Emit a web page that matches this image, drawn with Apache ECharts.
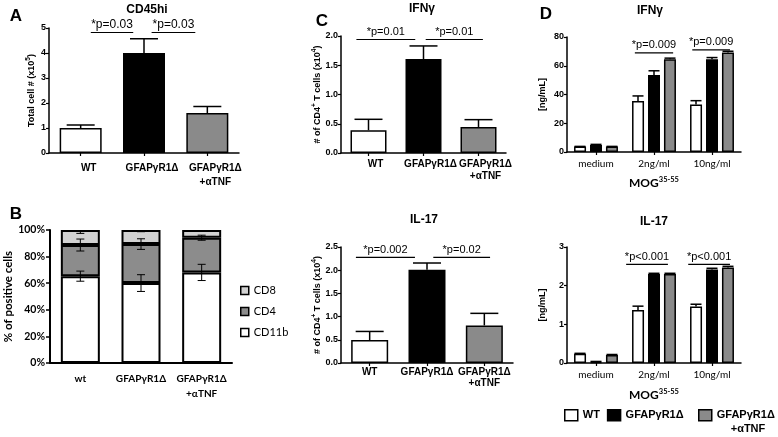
<!DOCTYPE html>
<html><head><meta charset="utf-8">
<script src="https://cdn.jsdelivr.net/npm/echarts@6/dist/echarts.min.js"></script>
<style>html,body{margin:0;padding:0;background:#fff}#c{width:778px;height:437px}</style>
</head><body><div id="c"></div>
<script>
// ---------------- data ----------------
const groupLabels = ['WT', 'GFAPγR1Δ', 'GFAPγR1Δ\n+αTNF'];
const groupLabelsB = ['wt', 'GFAPγR1Δ', 'GFAPγR1Δ\n+αTNF'];
const groupColors = ['#ffffff', '#000000', '#8a8a8a'];

// A: CD45hi total cell number (x10^5)
const cd45Mean = [1.0, 4.0, 1.6];
const cd45Upper = [1.12, 4.57, 1.86];
const cd45Sig = [[0.16, 0.83, 4.82, '*p=0.03'], [1.12, 1.81, 4.82, '*p=0.03']];

// B: % of positive cells
const cellTypes = ['CD11b', 'CD4', 'CD8'];
const pctCD11b = [65.3, 60.1, 68.1];
const pctCD4 = [23.4, 29.3, 26.1];
const pctCD8 = [11.3, 10.6, 5.8];
const errCD11b = [3.8, 6.3, 6.1];
const errCD4 = [4.5, 4.0, 1.9];
const errCD8 = [1.6, 0.8, 0];

// C: # of CD4+ T cells (x10^4)
const ifngMean = [0.39, 1.607, 0.445];
const ifngUpper = [0.576, 1.83, 0.57];
const ifngSig = [[-0.22, 0.85, 1.94, '*p=0.01'], [1.04, 2.08, 1.94, '*p=0.01']];
const il17Mean = [0.496, 2.01, 0.81];
const il17Upper = [0.68, 2.155, 1.07];
const il17Sig = [[-0.24, 0.79, 2.276, '*p=0.002'], [1.11, 2.1, 2.276, '*p=0.02']];

// D: cytokine ng/mL after MOG35-55 restimulation
const mogDoses = ['medium', '2ng/ml', '10ng/ml'];
const dSeriesNames = ['WT', 'GFAPγR1Δ', 'GFAPγR1Δ+αTNF'];
const dIfngMean = [[3.8, 35.5, 33.0], [4.8, 53.5, 64.6], [3.8, 64.6, 69.2]];
const dIfngUpper = [[3.9, 39.0, 35.7], [5.3, 56.5, 65.7], [3.9, 65.3, 70.1]];
const dIfngSig = [[0.67, 1.33, 69.0, '*p=0.009'], [1.66, 2.31, 71.1, '*p=0.009']];
const dIl17Mean = [[0.24, 1.37, 1.46], [0.03, 2.30, 2.42], [0.21, 2.30, 2.47]];
const dIl17Upper = [[0.25, 1.47, 1.52], [0.04, 2.32, 2.45], [0.22, 2.32, 2.50]];
const dIl17Sig = [[0.52, 1.24, 2.55, '*p<0.001'], [1.59, 2.31, 2.55, '*p<0.001']];

// ---------------- styling helpers ----------------
const ARIAL = '"Liberation Sans", Arial, sans-serif';
const CAL = 'Lato, "Open Sans", sans-serif';

function errUp(capW, offset) {
  return function (params, api) {
    const p0 = api.coord([api.value(0), api.value(1)]);
    const p1 = api.coord([api.value(0), api.value(2)]);
    const cx = p0[0] + offset;
    return { type: 'group', children: [
      { type: 'line', shape: { x1: cx, y1: p0[1], x2: cx, y2: p1[1] }, style: { stroke: '#000', lineWidth: 1.5 } },
      { type: 'line', shape: { x1: cx - capW / 2, y1: p1[1], x2: cx + capW / 2, y2: p1[1] }, style: { stroke: '#000', lineWidth: 1.5 } }
    ]};
  };
}
function errBoth(capW) {
  return function (params, api) {
    const lo = api.coord([api.value(0), api.value(1)]);
    const hi = api.coord([api.value(0), api.value(2)]);
    const cx = lo[0];
    return { type: 'group', children: [
      { type: 'line', shape: { x1: cx, y1: lo[1], x2: cx, y2: hi[1] }, style: { stroke: '#000', lineWidth: 1 } },
      { type: 'line', shape: { x1: cx - capW / 2, y1: lo[1], x2: cx + capW / 2, y2: lo[1] }, style: { stroke: '#000', lineWidth: 1 } },
      { type: 'line', shape: { x1: cx - capW / 2, y1: hi[1], x2: cx + capW / 2, y2: hi[1] }, style: { stroke: '#000', lineWidth: 1 } }
    ]};
  };
}
function sig(arr, fontSize) {
  return function (params, api) {
    const base = api.coord([0, api.value(1)]);
    const band = api.size([1, 0])[0];
    const x1 = base[0] + api.value(2) * band, x2 = base[0] + api.value(3) * band;
    return { type: 'group', children: [
      { type: 'line', shape: { x1: x1, y1: base[1], x2: x2, y2: base[1] }, style: { stroke: '#000', lineWidth: 1.2 } },
      { type: 'text', style: { text: arr[params.dataIndex][3], x: (x1 + x2) / 2, y: base[1] - 2, align: 'center', verticalAlign: 'bottom', font: fontSize + 'px ' + ARIAL, fill: '#000' } }
    ]};
  };
}
function sigData(arr) { return arr.map(s => [0, s[2], s[0], s[1]]); }

function prismY(gi, max, interval, name, nameGap, fmt) {
  return {
    gridIndex: gi, type: 'value', min: 0, max: max, interval: interval,
    axisLine: { show: true, lineStyle: { color: '#000', width: 1.5 } },
    axisTick: { show: true, length: 3, lineStyle: { color: '#000', width: 1.2 } },
    splitLine: { show: false },
    axisLabel: { color: '#000', fontFamily: ARIAL, fontWeight: 'bold', fontSize: 9, margin: 3, formatter: fmt },
    name: name, nameLocation: 'middle', nameGap: nameGap, nameRotate: 90,
    nameTextStyle: { color: '#000', rich: {
      a: { fontFamily: ARIAL, fontWeight: 'bold', fontSize: 9, color: '#000', verticalAlign: 'bottom' },
      s: { fontFamily: ARIAL, fontWeight: 'bold', fontSize: 6.5, color: '#000', verticalAlign: 'bottom', padding: [0, 0, 4, 0] }
    } }
  };
}
function prismX(gi, cats, margin, lineH, padLeft, fontFam, fontSize) {
  return {
    gridIndex: gi, type: 'category', data: cats,
    axisLine: { show: true, lineStyle: { color: '#000', width: 1.5 } },
    axisTick: { show: true, alignWithLabel: true, length: 3, lineStyle: { color: '#000', width: 1.2 } },
    axisLabel: { interval: 0, color: '#000', fontFamily: fontFam || ARIAL, fontWeight: fontFam ? 'normal' : 'bold', fontSize: fontSize || 10, margin: margin, lineHeight: lineH, padding: [0, 0, 0, padLeft] }
  };
}
const mogName = {
  name: '{a|MOG}{s|35-55}', nameLocation: 'middle',
  nameTextStyle: { rich: {
    a: { fontFamily: CAL, fontWeight: 'bold', fontSize: 12, color: '#000', verticalAlign: 'bottom' },
    s: { fontFamily: CAL, fontWeight: 'bold', fontSize: 7.5, color: '#000', verticalAlign: 'bottom', padding: [0, 0, 5, 0] }
  } }
};

const grids = [
  { left: 49, top: 28, width: 190, height: 125 },   // A
  { left: 50, top: 230, width: 182, height: 133 },  // B
  { left: 341, top: 36, width: 165, height: 117 },  // C IFNg
  { left: 341, top: 247, width: 172, height: 116 }, // C IL-17
  { left: 567, top: 37, width: 174, height: 115 },  // D IFNg
  { left: 567, top: 247, width: 174, height: 116 }  // D IL-17
];

const xAxes = [
  prismX(0, groupLabels, 8, 14, 16),
  {
    gridIndex: 1, type: 'category', data: groupLabelsB,
    axisLine: { show: true, lineStyle: { color: '#000', width: 2 } },
    axisTick: { show: false },
    axisLabel: { interval: 0, color: '#000', fontFamily: CAL, fontWeight: 'bold', fontSize: 10, margin: 8, lineHeight: 15 }
  },
  prismX(2, groupLabels, 5, 12, 14),
  prismX(3, groupLabels, 4, 11, 0),
  Object.assign(prismX(4, mogDoses, 6, 12, 0, CAL, 10), mogName, { nameGap: 24 }),
  Object.assign(prismX(5, mogDoses, 6, 12, 0, CAL, 10), mogName, { nameGap: 25 })
];

const yAxes = [
  prismY(0, 5, 1, '{a|Total cell # (x10}{s|5}{a|)}', 13),
  {
    gridIndex: 1, type: 'value', min: 0, max: 100, interval: 20,
    axisLine: { show: true, lineStyle: { color: '#000', width: 2 } },
    axisTick: { show: true, length: 4, lineStyle: { color: '#000', width: 1.5 } },
    splitLine: { show: false },
    axisLabel: { color: '#000', fontFamily: CAL, fontWeight: 'bold', fontSize: 10.5, margin: 5, formatter: '{value}%' },
    name: '% of positive cells', nameLocation: 'middle', nameGap: 33, nameRotate: 90,
    nameTextStyle: { color: '#000', fontFamily: CAL, fontWeight: 'bold', fontSize: 11.5 }
  },
  prismY(2, 2, 0.5, '{a|# of CD4}{s|+}{a| T cells (x10}{s|4}{a|)}', 18, v => v.toFixed(1)),
  prismY(3, 2.5, 0.5, '{a|# of CD4}{s|+}{a| T cells (x10}{s|4}{a|)}', 18, v => v.toFixed(1)),
  prismY(4, 80, 20, '{a|[ng/mL]}', 20),
  prismY(5, 3, 1, '{a|[ng/mL]}', 20)
];

function colored(vals) {
  return vals.map((v, i) => ({ value: v, itemStyle: { color: groupColors[i] } }));
}
const prismBar = { borderColor: '#000', borderWidth: 1.5 };

const series = [];
// A
series.push({ type: 'bar', name: 'CD45hi', xAxisIndex: 0, yAxisIndex: 0, barWidth: 42, itemStyle: prismBar, data: colored(cd45Mean) });
series.push({ type: 'custom', xAxisIndex: 0, yAxisIndex: 0, renderItem: errUp(28, 0), data: cd45Mean.map((m, i) => [i, m, cd45Upper[i]]), z: 5 });
series.push({ type: 'custom', xAxisIndex: 0, yAxisIndex: 0, renderItem: sig(cd45Sig, 12), data: sigData(cd45Sig), z: 5 });
// B stacked
const bColors = { CD11b: '#ffffff', CD4: '#8c8c8c', CD8: '#d2d2d2' };
[[pctCD11b, 'CD11b'], [pctCD4, 'CD4'], [pctCD8, 'CD8']].forEach(([vals, nm]) => {
  series.push({ type: 'bar', name: nm, stack: 'b', xAxisIndex: 1, yAxisIndex: 1, barWidth: 39,
    itemStyle: { color: bColors[nm], borderColor: '#000', borderWidth: 2 }, data: vals });
});
const bErr = [];
pctCD11b.forEach((v, i) => bErr.push([i, v - errCD11b[i], v + errCD11b[i]]));
pctCD11b.forEach((v, i) => { const t = v + pctCD4[i]; bErr.push([i, t - errCD4[i], t + errCD4[i]]); });
pctCD11b.forEach((v, i) => { const t = v + pctCD4[i] + pctCD8[i]; if (errCD8[i] > 0) bErr.push([i, t - errCD8[i] * 1.6, t - 0.5]); });
series.push({ type: 'custom', xAxisIndex: 1, yAxisIndex: 1, renderItem: errBoth(8), data: bErr, z: 5 });
// C
series.push({ type: 'bar', name: 'IFNg', xAxisIndex: 2, yAxisIndex: 2, barWidth: 36, itemStyle: prismBar, data: colored(ifngMean) });
series.push({ type: 'custom', xAxisIndex: 2, yAxisIndex: 2, renderItem: errUp(28, 0), data: ifngMean.map((m, i) => [i, m, ifngUpper[i]]), z: 5 });
series.push({ type: 'custom', xAxisIndex: 2, yAxisIndex: 2, renderItem: sig(ifngSig, 11), data: sigData(ifngSig), z: 5 });
series.push({ type: 'bar', name: 'IL17', xAxisIndex: 3, yAxisIndex: 3, barWidth: 37, itemStyle: prismBar, data: colored(il17Mean) });
series.push({ type: 'custom', xAxisIndex: 3, yAxisIndex: 3, renderItem: errUp(28, 0), data: il17Mean.map((m, i) => [i, m, il17Upper[i]]), z: 5 });
series.push({ type: 'custom', xAxisIndex: 3, yAxisIndex: 3, renderItem: sig(il17Sig, 11), data: sigData(il17Sig), z: 5 });
// D
[[4, dIfngMean, dIfngUpper, dIfngSig], [5, dIl17Mean, dIl17Upper, dIl17Sig]].forEach(([ax, means, uppers, sg]) => {
  means.forEach((vals, g) => {
    series.push({ type: 'bar', name: dSeriesNames[g], xAxisIndex: ax, yAxisIndex: ax, barWidth: 12, barGap: '33%',
      itemStyle: { color: groupColors[g], borderColor: '#000', borderWidth: 1.5 }, data: vals });
  });
  means.forEach((vals, g) => {
    series.push({ type: 'custom', xAxisIndex: ax, yAxisIndex: ax, renderItem: errUp(11, (g - 1) * 16),
      data: vals.map((m, i) => [i, m, uppers[g][i]]), z: 5 });
  });
  series.push({ type: 'custom', xAxisIndex: ax, yAxisIndex: ax, renderItem: sig(sg, 11), data: sigData(sg), z: 5 });
});

function label(text, x, y, size, fam, weight) {
  return { type: 'text', x: x, y: y, style: { text: text, align: 'center', verticalAlign: 'middle', font: (weight || 'bold') + ' ' + size + 'px ' + (fam || ARIAL), fill: '#000' } };
}

const legendBox = { borderColor: '#000', borderWidth: 1.5 };
const option = {
  animation: false,
  backgroundColor: '#fff',
  grid: grids,
  xAxis: xAxes,
  yAxis: yAxes,
  series: series,
  legend: [
    { data: ['CD8', 'CD4', 'CD11b'], orient: 'vertical', left: 240, top: 284, padding: 0, itemWidth: 8, itemHeight: 8, itemGap: 8,
      icon: 'rect', selectedMode: false, itemStyle: legendBox,
      textStyle: { fontFamily: CAL, fontSize: 11, color: '#000', lineHeight: 13 } },
    { data: ['WT', 'GFAPγR1Δ'], left: 564, top: 409, padding: 0, itemWidth: 13, itemHeight: 11, itemGap: 7, icon: 'rect',
      selectedMode: false, itemStyle: legendBox,
      textStyle: { fontFamily: ARIAL, fontWeight: 'bold', fontSize: 11, color: '#000' } },
    { data: ['GFAPγR1Δ+αTNF'], left: 698, top: 409, padding: 0, itemWidth: 13, itemHeight: 11, icon: 'rect',
      selectedMode: false, itemStyle: legendBox,
      formatter: () => 'GFAPγR1Δ',
      textStyle: { fontFamily: ARIAL, fontWeight: 'bold', fontSize: 11, color: '#000' } }
  ],
  graphic: [
    label('A', 16, 16, 17), label('B', 16, 214, 17), label('C', 322, 21, 17), label('D', 546, 14, 17),
    label('CD45hi', 147, 10, 12), label('IFNγ', 422, 9, 12), label('IL-17', 424, 220, 12),
    label('IFNγ', 650, 11, 12), label('IL-17', 654, 222, 12),
    label('+αTNF', 748, 429, 11)
  ]
};

const chart = echarts.init(document.getElementById('c'), null, { renderer: 'canvas' });
chart.setOption(option);
</script>
</body></html>
